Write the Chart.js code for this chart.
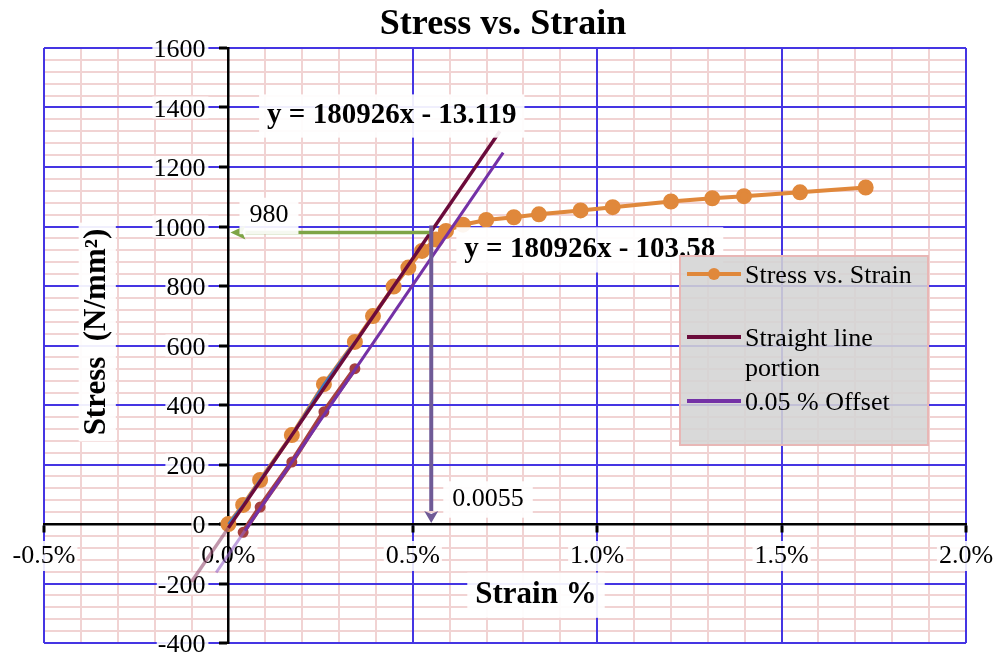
<!DOCTYPE html>
<html>
<head>
<meta charset="utf-8">
<title>Stress vs. Strain</title>
<script src="https://cdn.jsdelivr.net/npm/chart.js@4.4.1/dist/chart.umd.min.js"></script>
<style>
    html, body { margin: 0; padding: 0; background: #fff; }
</style>
</head>
<body>
<canvas id="stressChart" width="996" height="656"></canvas>
<script>
// measured test points (strain in %, stress in N/mm2)
const strainPct = [0, 0.040, 0.086, 0.172, 0.259, 0.343, 0.392, 0.448, 0.488, 0.525, 0.563, 0.590,
    0.636, 0.699, 0.774, 0.842, 0.955, 1.042, 1.200, 1.312, 1.398, 1.550, 1.728];
const stressVals = [0, 64, 148, 299, 470, 612, 699, 798, 862, 918, 956, 985,
    1006, 1022, 1031, 1041, 1054, 1065, 1084, 1095, 1102, 1115, 1131];

// points shifted by the 0.05 % offset
const offsetStrain = [0.040, 0.086, 0.172, 0.259, 0.343];
const offsetStress = [-28, 57, 208, 377, 522];

// trendline end points
const fitStrain = [-0.100, 0.000, 0.736];
const fitStress = [-194, -13, 1320];
const offFitStrain = [-0.033, 0.045, 0.745];
const offFitStress = [-163, -22, 1248];

const yieldStrain = 0.55;
const yieldStress = 980;
const yieldTop = 1003;

const eqStraight = "y = 180926x - 13.119";
const eqOffset = "y = 180926x - 103.58";

const FONT = "'Liberation Serif', 'Times New Roman', serif";
const BLUE = "#4535e3";
const PINK = "#f1d3d3";

function pts(xs, ys) {
    return xs.map((x, i) => ({ x: x, y: ys[i] }));
}

function textBox(ctx, text, cx, base, size, bold, padX, padY) {
    ctx.font = (bold ? "bold " : "") + size + "px " + FONT;
    const w = ctx.measureText(text).width;
    ctx.fillStyle = "rgba(255,255,255,0.92)";
    ctx.fillRect(cx - w / 2 - padX, base - size * 0.72 - padY, w + padX * 2, size * 0.72 + size * 0.22 + padY * 2);
    ctx.fillStyle = "#000";
    ctx.textAlign = "center";
    ctx.textBaseline = "alphabetic";
    ctx.fillText(text, cx, base);
}

function arrow(ctx, x1, y1, x2, y2, color, width, headLen, headHalf) {
    const ang = Math.atan2(y2 - y1, x2 - x1);
    const bx = x2 - Math.cos(ang) * headLen;
    const by = y2 - Math.sin(ang) * headLen;
    ctx.strokeStyle = color;
    ctx.lineWidth = width;
    ctx.beginPath();
    ctx.moveTo(x1, y1);
    ctx.lineTo(bx, by);
    ctx.stroke();
    ctx.fillStyle = color;
    ctx.beginPath();
    ctx.moveTo(x2, y2);
    ctx.lineTo(bx - Math.sin(ang) * headHalf, by + Math.cos(ang) * headHalf);
    ctx.lineTo(bx + Math.cos(ang) * 3, by + Math.sin(ang) * 3);
    ctx.lineTo(bx + Math.sin(ang) * headHalf, by - Math.cos(ang) * headHalf);
    ctx.closePath();
    ctx.fill();
}

const decorations = {
    id: "decorations",
    beforeDatasetsDraw(chart) {
        // y tick labels left of the centred axis
        const ctx = chart.ctx;
        const xs = chart.scales.x;
        const ys = chart.scales.y;
        const ax = xs.getPixelForValue(0);
        ctx.save();
        ctx.font = "26px " + FONT;
        ys.ticks.forEach(t => {
            const py = ys.getPixelForValue(t.value);
            const label = String(t.value);
            const w = ctx.measureText(label).width;
            ctx.fillStyle = "rgba(255,255,255,0.88)";
            ctx.fillRect(ax - 24 - w, py - 11, w + 4, 22);
            ctx.fillStyle = "#000";
            ctx.textAlign = "right";
            ctx.textBaseline = "alphabetic";
            ctx.fillText(label, ax - 23, py + 9);
        });
        ctx.restore();
    },
    afterDatasetsDraw(chart) {
        const ctx = chart.ctx;
        const xs = chart.scales.x;
        const ys = chart.scales.y;
        ctx.save();
        const vx = xs.getPixelForValue(yieldStrain);
        const hy = ys.getPixelForValue(yieldStress);
        arrow(ctx, vx, hy, xs.getPixelForValue(0) + 2, hy, "#7ea446", 3.5, 15, 7);
        arrow(ctx, vx, ys.getPixelForValue(yieldTop), vx, ys.getPixelForValue(0) - 1, "#6f5a96", 4, 12, 7);

        textBox(ctx, String(yieldStress), xs.getPixelForValue(0.11), ys.getPixelForValue(yieldStress) - 10, 26, false, 10, 6);
        textBox(ctx, "0.0055", xs.getPixelForValue(0.704), ys.getPixelForValue(0) - 18, 26, false, 9, 6);
        textBox(ctx, eqStraight, xs.getPixelForValue(0.443), ys.getPixelForValue(1347), 29, true, 8, 8);
        textBox(ctx, eqOffset, xs.getPixelForValue(0.98), ys.getPixelForValue(897), 29, true, 8, 9);
        ctx.restore();
    },
    afterDraw(chart) {
        const ctx = chart.ctx;
        ctx.save();

        // title
        ctx.fillStyle = "#000";
        ctx.textAlign = "center";
        ctx.textBaseline = "alphabetic";
        ctx.font = "bold 36px " + FONT;
        ctx.fillText("Stress vs. Strain", 503, 34);

        // x axis title
        textBox(ctx, "Strain %", 536, 603, 31, true, 8, 8);

        // y axis title
        ctx.save();
        ctx.translate(105, 332);
        ctx.rotate(-Math.PI / 2);
        textBox(ctx, "Stress  (N/mm²)", 0, 0, 31, true, 6, 4);
        ctx.restore();

        // legend box
        const lx = 680, ly = 256, lw = 248, lh = 189;
        ctx.fillStyle = "rgba(212,212,212,0.88)";
        ctx.fillRect(lx, ly, lw, lh);
        ctx.strokeStyle = "#e8b7b6";
        ctx.lineWidth = 2;
        ctx.strokeRect(lx, ly, lw, lh);

        const rows = [
            { color: "#e0883b", y: 274, dot: true, lines: ["Stress vs. Strain"] },
            { color: "#6b0b3b", y: 337, dot: false, lines: ["Straight line", "portion"] },
            { color: "#7431a6", y: 401, dot: false, lines: ["0.05 % Offset"] }
        ];
        ctx.font = "26px " + FONT;
        ctx.textAlign = "left";
        rows.forEach(r => {
            ctx.strokeStyle = r.color;
            ctx.lineWidth = 4;
            ctx.beginPath();
            ctx.moveTo(687, r.y);
            ctx.lineTo(741, r.y);
            ctx.stroke();
            if (r.dot) {
                ctx.fillStyle = r.color;
                ctx.beginPath();
                ctx.arc(714, r.y, 6, 0, Math.PI * 2);
                ctx.fill();
            }
            ctx.fillStyle = "#000";
            r.lines.forEach((t, i) => ctx.fillText(t, 745, r.y + 9 + i * 30));
        });
        ctx.restore();
    }
};

new Chart(document.getElementById("stressChart"), {
    type: "scatter",
    data: {
        datasets: [
            {
                label: "Straight line trend",
                data: pts(fitStrain, fitStress),
                showLine: true,
                borderColor: "#6b0b3b",
                borderWidth: 3.5,
                pointRadius: 0,
                segment: {
                    borderColor: c => c.p0DataIndex === 0 ? "rgba(150,80,115,0.6)" : undefined
                }
            },
            {
                label: "Offset trend",
                data: pts(offFitStrain, offFitStress),
                showLine: true,
                borderColor: "#7431a6",
                borderWidth: 3,
                pointRadius: 0,
                segment: {
                    borderColor: c => c.p0DataIndex === 0 ? "rgba(150,100,200,0.6)" : undefined
                }
            },
            {
                label: "0.05 % Offset",
                data: pts(offsetStrain, offsetStress),
                showLine: true,
                borderColor: "#a5403f",
                backgroundColor: "#a5403f",
                borderWidth: 5,
                pointRadius: 3
            },
            {
                label: "Straight line portion",
                data: pts(strainPct.slice(0, 6), stressVals.slice(0, 6)),
                showLine: true,
                borderColor: "#3c78c0",
                borderWidth: 2.5,
                pointRadius: 0
            },
            {
                label: "Stress vs. Strain",
                data: pts(strainPct, stressVals),
                showLine: true,
                borderColor: "#e0883b",
                backgroundColor: "#e0883b",
                borderWidth: 4,
                pointRadius: 6,
                pointHoverRadius: 6
            }
        ]
    },
    options: {
        responsive: false,
        animation: false,
        layout: {
            padding: { left: 44, right: 30, top: 48, bottom: 13 }
        },
        plugins: {
            legend: { display: false },
            tooltip: { enabled: false },
            title: { display: false }
        },
        scales: {
            xMinor: {
                type: "linear",
                position: "top",
                min: -0.5,
                max: 2,
                z: -1,
                ticks: { display: false, stepSize: 0.1 },
                grid: { color: PINK, lineWidth: 2, drawTicks: false },
                border: { display: false }
            },
            yMinor: {
                type: "linear",
                position: "right",
                min: -400,
                max: 1600,
                z: -1,
                ticks: { display: false, stepSize: 40 },
                grid: { color: PINK, lineWidth: 2, drawTicks: false },
                border: { display: false }
            },
            x: {
                type: "linear",
                position: { y: 0 },
                min: -0.5,
                max: 2,
                afterFit: s => {
                    s.paddingLeft = 0;
                    s.paddingRight = 0;
                },
                ticks: {
                    stepSize: 0.5,
                    color: "#000",
                    font: { family: FONT, size: 26, lineHeight: 1 },
                    padding: 12,
                    showLabelBackdrop: true,
                    backdropColor: "rgba(255,255,255,0.88)",
                    backdropPadding: 2,
                    callback: v => v.toFixed(1) + "%"
                },
                grid: { color: BLUE, lineWidth: 2, tickColor: "#000", tickLength: 7, tickWidth: 3 },
                border: { color: "#000", width: 2.5 }
            },
            y: {
                type: "linear",
                position: { x: 0 },
                min: -400,
                max: 1600,
                ticks: { stepSize: 200, display: false },
                grid: { color: BLUE, lineWidth: 2, tickColor: "#000", tickLength: 8, tickWidth: 3 },
                border: { color: "#000", width: 2.5 }
            }
        }
    },
    plugins: [decorations]
});
</script>
</body>
</html>
